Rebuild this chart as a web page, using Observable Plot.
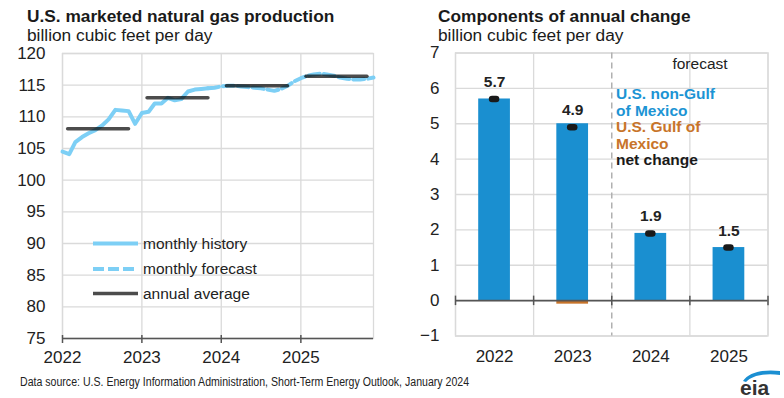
<!DOCTYPE html>
<html><head><meta charset="utf-8">
<script src="https://cdn.jsdelivr.net/npm/d3@7"></script>
<script src="https://cdn.jsdelivr.net/npm/@observablehq/plot@0.6"></script>
<style>
html,body{margin:0;padding:0;background:#fff}
#wrap{position:relative;width:784px;height:398px;overflow:hidden;font-family:"Liberation Sans",Arial,sans-serif;color:#1a1a1a}
.abs{position:absolute;white-space:nowrap;line-height:1}
.title{font-weight:bold;font-size:17.3px}
.sub{font-size:17.3px}
#left,#right{position:absolute;top:40px}
#left{left:0}
#right{left:400px}
.leg{position:absolute;left:616px;top:86px;font-weight:bold;font-size:15.5px;line-height:16.6px;white-space:nowrap}
</style></head><body><div id="wrap">
<div class="abs title" style="left:27px;top:8px">U.S. marketed natural gas production</div>
<div class="abs sub" style="left:27px;top:26.5px">billion cubic feet per day</div>
<div class="abs title" style="left:438px;top:8px">Components of annual change</div>
<div class="abs sub" style="left:438px;top:26.5px">billion cubic feet per day</div>
<div id="left"></div>
<div id="right"></div>
<div class="abs" id="fc" style="left:700px;top:56px;font-size:15.5px;transform:translateX(-50%);color:#222"></div>
<div class="leg" id="rleg"></div>
<svg id="lleg" style="position:absolute;left:0;top:0" width="400" height="398"></svg>
<div class="abs" id="cap" style="left:20px;top:376px;font-size:12.5px;color:#222;transform-origin:0 0;transform:scaleX(0.846)"></div>
<svg style="position:absolute;left:730px;top:366px" width="54" height="32">
  <path d="M13 15 C19 6, 34 3, 50 5 L50 9 C36 7, 23 9, 16 16 Z" fill="#1b8fd2"/>
  <text x="10" y="29" font-family="Liberation Sans, Arial, sans-serif" font-weight="bold" font-size="21" fill="#333">eia</text>
</svg>
</div>
<script>
// ---------- Left chart data ----------
const historyStart = [2022, 0];          // Jan 2022
const historyValues = [104.5, 104.1, 106.0, 106.8, 107.4, 107.9, 108.6, 109.6, 111.1, 111.0, 110.9, 108.9,
                       110.6, 110.8, 112.1, 112.1, 113.0, 112.6, 112.8, 114.0, 114.3, 114.4, 114.5];
const forecastStart = [2023, 10];        // Nov 2023
const forecastValues = [114.5, 114.6, 114.8, 114.9, 114.9, 114.8, 114.7, 114.6, 114.5, 114.3, 114.1, 114.4, 114.9,
                        115.6, 116.1, 116.5, 116.7, 116.8, 116.7, 116.5, 116.2, 116.0, 115.9, 115.9, 116.0, 116.2];
const years = [2022, 2023, 2024, 2025];
const annualAverage = [108.1, 113.0, 114.9, 116.4];
const yTicksLeft = [75, 80, 85, 90, 95, 100, 105, 110, 115, 120];
const legendLabels = ["monthly history", "monthly forecast", "annual average"];

// ---------- Right chart data ----------
const nonGulf = [5.7, 5.0, 1.9, 1.5];
const gulf = [0.0, -0.1, 0.0, 0.0];
const netChange = [5.7, 4.9, 1.9, 1.5];
const yTicksRight = [-1, 0, 1, 2, 3, 4, 5, 6, 7];
const firstForecastYear = 2024;
const rightLegend = [["U.S. non-Gulf", "of Mexico"], ["U.S. Gulf of", "Mexico"], ["net change"]];
const caption = "Data source: U.S. Energy Information Administration, Short-Term Energy Outlook, January 2024";

const LINE = "#7dcff5", BAR = "#1a8fd0", ORANGE = "#c8742a", GRID = "#dadada", AXIS = "#555";
const FONT = "Liberation Sans, Arial, sans-serif";

const monthSeries = (start, vals) => vals.map((v, i) => ({date: new Date(start[0], start[1] + i, 1), value: v}));
const history = monthSeries(historyStart, historyValues);
const forecast = monthSeries(forecastStart, forecastValues);
const annual = years.map((y, i) => ({x1: new Date(y, 0, 27), x2: new Date(y, 10, 3), value: annualAverage[i]}));
const yearDates = years.map(y => new Date(y, 0, 1));

const left = Plot.plot({
  width: 390, height: 330,
  marginLeft: 62, marginRight: 17, marginTop: 13, marginBottom: 32,
  style: {fontFamily: FONT, fontSize: "17px", color: "#222", background: "transparent", overflow: "visible"},
  x: {type: "time", domain: [new Date(2022, 0, 1), new Date(2025, 11, 1)]},
  y: {domain: [75, 120]},
  marks: [
    Plot.gridY(yTicksLeft, {stroke: GRID, strokeOpacity: 1, strokeWidth: 1.3}),
    Plot.gridX(yearDates, {stroke: GRID, strokeOpacity: 1, strokeWidth: 1.3}),
    Plot.frame({stroke: GRID, strokeWidth: 1.3}),
    Plot.axisY(yTicksLeft, {tickSize: 0, tickPadding: 17, label: null}),
    Plot.axisX(yearDates, {tickSize: 0, tickPadding: 12, label: null, tickFormat: d3.timeFormat("%Y")}),
    Plot.ruleY([75], {stroke: AXIS, strokeWidth: 1.6}),
    Plot.ruleX(yearDates, {y1: 75, y2: 75, insetTop: -3, insetBottom: -5, stroke: AXIS, strokeWidth: 1.5}),
    Plot.line(forecast, {x: "date", y: "value", stroke: LINE, strokeWidth: 4, strokeDasharray: "11,4"}),
    Plot.line(history, {x: "date", y: "value", stroke: LINE, strokeWidth: 4}),
    Plot.ruleY(annual, {x1: "x1", x2: "x2", y: "value", stroke: "#000", strokeOpacity: 0.7, strokeWidth: 3.5, strokeLinecap: "round"})
  ]
});
document.getElementById("left").appendChild(left);

// left legend
const lleg = d3.select("#lleg");
const legStyles = [{stroke: LINE, dash: null, op: 1}, {stroke: LINE, dash: "11,4", op: 1}, {stroke: "#000", dash: null, op: 0.7}];
const legY = [243.5, 269, 293.5];
legendLabels.forEach((t, i) => {
  lleg.append("line").attr("x1", 93).attr("x2", 138).attr("y1", legY[i]).attr("y2", legY[i])
    .attr("stroke", legStyles[i].stroke).attr("stroke-width", i === 2 ? 3.5 : 4).attr("stroke-opacity", legStyles[i].op)
    .attr("stroke-dasharray", legStyles[i].dash);
  lleg.append("text").attr("x", 143).attr("y", legY[i]).attr("dy", "0.35em").attr("font-family", FONT)
    .attr("font-size", 15.5).attr("fill", "#222").text(t);
});

// right chart
const rows = years.map((y, i) => ({year: y, nonGulf: nonGulf[i], gulf: gulf[i], net: netChange[i]}));
const half = 0.203;
const boundaries = [years[0] - 0.5, ...years.map(y => y + 0.5)];
const right = Plot.plot({
  width: 384, height: 330,
  marginLeft: 55, marginRight: 16.5, marginTop: 12.5, marginBottom: 34.5,
  style: {fontFamily: FONT, fontSize: "17px", color: "#222", background: "transparent", overflow: "visible"},
  x: {domain: [years[0] - 0.5, years[years.length - 1] + 0.5]},
  y: {domain: [-1, 7]},
  marks: [
    Plot.gridY(yTicksRight, {stroke: GRID, strokeOpacity: 1, strokeWidth: 1.3}),
    Plot.ruleX(boundaries.filter(b => b !== firstForecastYear - 0.5), {stroke: GRID, strokeWidth: 1.3}),
    Plot.frame({stroke: GRID, strokeWidth: 1.3}),
    Plot.ruleX([firstForecastYear - 0.5], {stroke: "#b0b0b0", strokeWidth: 1.5, strokeDasharray: "6,4"}),
    Plot.axisY(yTicksRight, {tickSize: 0, tickPadding: 16, label: null}),
    Plot.axisX(years, {tickSize: 0, tickPadding: 13.5, label: null, tickFormat: d => `${d}`}),
    Plot.rectY(rows, {x1: d => d.year - half, x2: d => d.year + half, y1: 0, y2: "nonGulf", fill: BAR}),
    Plot.rectY(rows.filter(d => d.gulf !== 0), {x1: d => d.year - half, x2: d => d.year + half, y1: 0, y2: "gulf", fill: ORANGE}),
    Plot.ruleY([0], {stroke: AXIS, strokeWidth: 1.6}),
    Plot.ruleX(boundaries, {y1: 0, y2: 0, insetTop: -4.5, insetBottom: -5, stroke: AXIS, strokeWidth: 1.5}),
    Plot.ruleY(rows, {x1: d => d.year - 0.026, x2: d => d.year + 0.026, y: "net", stroke: "#1a1a1a", strokeWidth: 6.5, strokeLinecap: "round"}),
    Plot.text(rows, {x: "year", y: "net", text: d => d.net.toFixed(1), dy: -17, fontWeight: "bold", fontSize: 15.5, fill: "#222"})
  ]
});
document.getElementById("right").appendChild(right);

document.getElementById("fc").textContent = "forecast";
const legColors = [BAR, ORANGE, "#1a1a1a"];
const rl = document.getElementById("rleg");
rightLegend.forEach((lines, i) => lines.forEach(t => {
  const d = document.createElement("div"); d.textContent = t; d.style.color = i === 0 ? "#1c94d4" : legColors[i]; rl.appendChild(d);
}));
document.getElementById("cap").textContent = caption;
</script>
</body></html>
